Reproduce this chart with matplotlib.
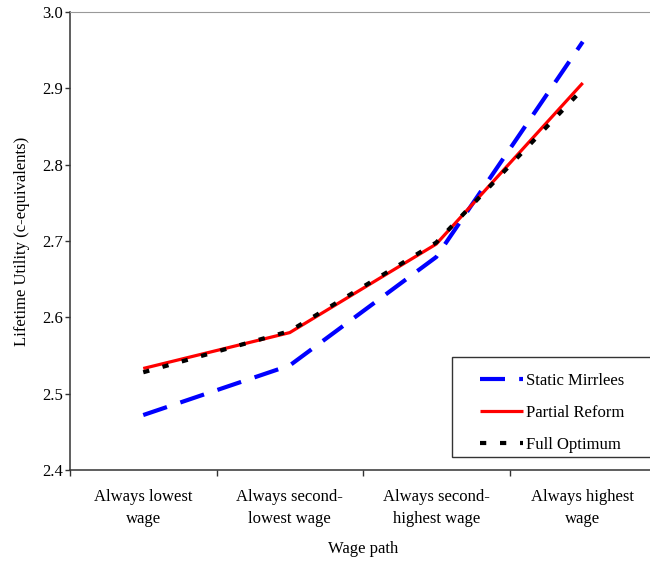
import matplotlib
matplotlib.use("Agg")
import matplotlib.pyplot as plt
from matplotlib.patches import Rectangle

# =========================
# DATA
# =========================
categories = ["Always lowest\nwage", "Always second-\nlowest wage",
              "Always second-\nhighest wage", "Always highest\nwage"]
static_mirrlees = [2.472, 2.537, 2.679, 2.961]
partial_reform = [2.533, 2.580, 2.696, 2.907]
full_optimum = [2.528, 2.582, 2.698, 2.899]

plt.rcParams["font.family"] = ["Liberation Serif", "DejaVu Serif"]
plt.rcParams["font.size"] = 12

fig = plt.figure(figsize=(6.5, 5.61), dpi=100)
ax = fig.add_axes([70 / 650, 91 / 561, 586 / 650, 458 / 561])

x = list(range(len(categories)))
l1, = ax.plot(x, static_mirrlees, color="#0000ff", lw=3, dashes=(6, 3.4),
              dash_capstyle="butt", label="Static Mirrlees")
l2, = ax.plot(x, partial_reform, color="#ff0000", lw=2.3,
              solid_capstyle="butt", label="Partial Reform")
l3, = ax.plot(x, full_optimum, color="black", lw=3, dashes=(1.5, 3.3),
              dash_capstyle="butt", label="Full Optimum")
# red sits on top of blue, black on top of red
l1.set_zorder(2)
l2.set_zorder(3)
l3.set_zorder(4)

ax.set_xlim(-0.5, len(categories) - 0.5)
ax.set_ylim(2.4, 3.0)
ax.set_yticks([2.4, 2.5, 2.6, 2.7, 2.8, 2.9, 3.0])
ax.set_yticklabels(["2.4", "2.5", "2.6", "2.7", "2.8", "2.9", "3.0"])

# ticks at category boundaries, labels in the middle
ax.set_xticks([i - 0.5 for i in range(len(categories) + 1)])
ax.set_xticklabels([])
ax.set_xticks(x, minor=True)
ax.set_xticklabels(categories, minor=True, linespacing=1.5)
ax.tick_params(axis="x", which="minor", length=0, pad=14)
ax.tick_params(axis="x", which="major", direction="out", length=4, width=1, color="#333333")
ax.tick_params(axis="y", direction="out", length=3.5, width=1, color="#333333", pad=1.5)

for s in ["left", "bottom"]:
    ax.spines[s].set_color("#333333")
    ax.spines[s].set_linewidth(1.1)
ax.spines["top"].set_color("#999999")
ax.spines["top"].set_linewidth(0.8)
ax.spines["right"].set_visible(False)

ax.set_ylabel("Lifetime Utility (c-equivalents)", labelpad=9)
ax.set_xlabel("Wage path", labelpad=10)

# =========================
# LEGEND
# =========================
box = Rectangle((452 / 650, 1 - 457 / 561), 210 / 650, 100 / 561,
                transform=fig.transFigure, facecolor="white",
                edgecolor="#333333", lw=1, zorder=5)
fig.patches.append(box)
leg = fig.legend(handles=[l1, l2, l3], loc="upper left",
                 bbox_to_anchor=(465 / 650, 1 - 358 / 561),
                 frameon=False, handlelength=2.6, handletextpad=0.15,
                 labelspacing=0.95, fontsize=12)
leg.set_zorder(6)

fig.savefig("out.png", dpi=100)
